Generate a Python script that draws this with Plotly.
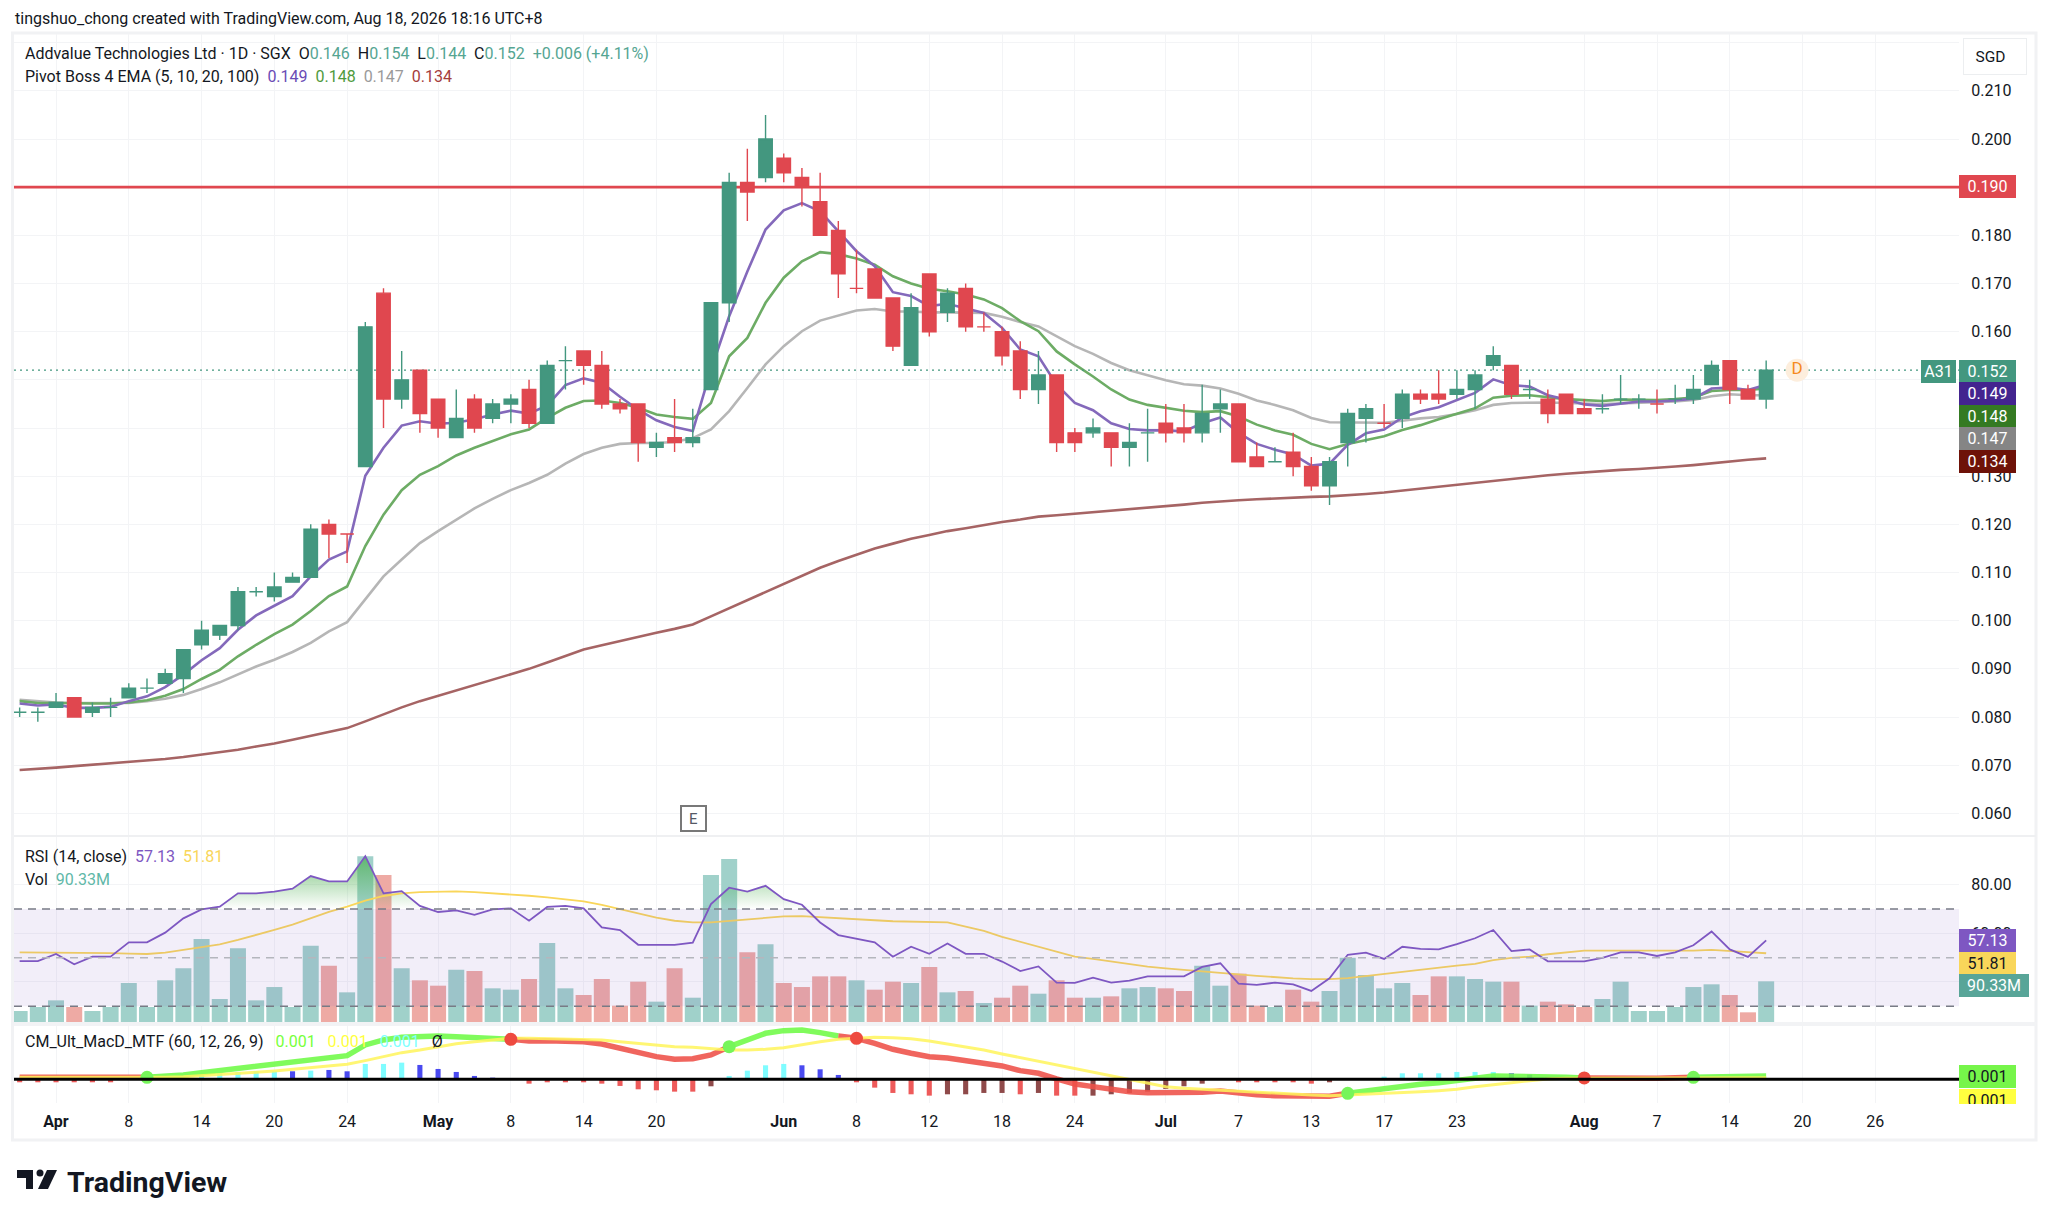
import plotly.graph_objects as go

W = 2046
H = 1206

# daily bars
opens = [0.081,0.081,0.082,0.084,0.081,0.082,0.084,0.086,0.087,0.088,0.095,0.097,0.099,0.106,0.105,0.108,0.109,0.120,0.118,0.132,
         0.168,0.146,0.152,0.146,0.138,0.146,0.142,0.145,0.148,0.141,0.154,0.156,0.153,0.145,0.145,0.136,0.138,0.137,0.148,0.166,
         0.191,0.192,0.196,0.192,0.187,0.181,0.169,0.173,0.167,0.153,0.172,0.164,0.169,0.161,0.160,0.156,0.148,0.151,0.139,0.139,
         0.139,0.136,0.139,0.141,0.140,0.139,0.144,0.145,0.134,0.133,0.135,0.132,0.128,0.137,0.142,0.141,0.142,0.147,0.147,0.147,
         0.148,0.153,0.153,0.148,0.146,0.147,0.144,0.144,0.146,0.146,0.145,0.146,0.146,0.149,0.154,0.148,0.146]
highs = [0.082,0.082,0.085,0.084,0.083,0.084,0.087,0.088,0.090,0.094,0.100,0.099,0.107,0.107,0.110,0.110,0.120,0.121,0.118,0.162,
         0.169,0.156,0.152,0.146,0.148,0.147,0.146,0.147,0.150,0.154,0.157,0.156,0.156,0.146,0.145,0.139,0.146,0.144,0.166,0.193,
         0.198,0.205,0.197,0.194,0.193,0.183,0.177,0.173,0.167,0.168,0.172,0.169,0.170,0.164,0.161,0.158,0.156,0.151,0.140,0.142,
         0.139,0.141,0.144,0.145,0.145,0.149,0.148,0.145,0.137,0.136,0.139,0.134,0.134,0.144,0.145,0.145,0.148,0.148,0.152,0.152,
         0.152,0.157,0.153,0.150,0.148,0.147,0.146,0.147,0.151,0.147,0.148,0.149,0.151,0.154,0.154,0.149,0.154]
lows = [0.080,0.079,0.082,0.080,0.080,0.080,0.084,0.085,0.087,0.085,0.094,0.096,0.098,0.105,0.104,0.108,0.109,0.113,0.112,0.132,
        0.140,0.144,0.139,0.138,0.138,0.139,0.141,0.141,0.140,0.141,0.148,0.149,0.144,0.143,0.133,0.134,0.135,0.136,0.148,0.162,
        0.183,0.191,0.191,0.186,0.180,0.167,0.168,0.167,0.156,0.153,0.159,0.162,0.160,0.160,0.153,0.146,0.145,0.135,0.135,0.138,
        0.132,0.132,0.133,0.137,0.137,0.137,0.139,0.133,0.132,0.133,0.130,0.127,0.124,0.132,0.137,0.140,0.140,0.145,0.145,0.146,
        0.144,0.152,0.146,0.146,0.141,0.143,0.143,0.143,0.145,0.144,0.143,0.145,0.145,0.149,0.145,0.146,0.144]
closes = [0.081,0.081,0.083,0.080,0.082,0.082,0.086,0.086,0.089,0.094,0.098,0.099,0.106,0.106,0.107,0.109,0.119,0.118,0.118,0.161,
          0.146,0.150,0.143,0.140,0.142,0.140,0.145,0.146,0.141,0.153,0.154,0.153,0.145,0.144,0.137,0.137,0.137,0.138,0.166,0.191,
          0.189,0.200,0.193,0.190,0.180,0.172,0.169,0.167,0.157,0.165,0.160,0.168,0.161,0.161,0.155,0.148,0.151,0.137,0.137,0.140,
          0.136,0.137,0.139,0.139,0.139,0.143,0.145,0.133,0.132,0.133,0.132,0.128,0.133,0.143,0.144,0.141,0.147,0.146,0.146,0.148,
          0.151,0.155,0.147,0.148,0.143,0.143,0.143,0.144,0.146,0.146,0.145,0.146,0.148,0.153,0.148,0.146,0.152]

ema5 = [0.0828,0.0824,0.0826,0.0819,0.0819,0.0821,0.0833,0.0843,0.0862,0.0888,0.0918,0.0943,0.0981,0.1011,0.1031,0.1051,0.1092,0.1127,0.1144,0.1301,
        0.1359,0.1405,0.1414,0.1409,0.1411,0.1418,0.1428,0.1436,0.1430,0.1447,0.1489,0.1503,0.1494,0.1465,0.1438,0.1416,0.1402,0.1394,0.1521,0.1632,
        0.1725,0.1812,0.1852,0.1867,0.1850,0.1809,0.1767,0.1736,0.1682,0.1674,0.1653,0.1658,0.1649,0.1639,0.1608,0.1563,0.1549,0.1490,0.1452,0.1437,
        0.1410,0.1398,0.1395,0.1395,0.1393,0.1410,0.1422,0.1390,0.1367,0.1355,0.1345,0.1322,0.1326,0.1365,0.1389,0.1397,0.1422,0.1435,0.1443,0.1458,
        0.1473,0.1501,0.1489,0.1486,0.1468,0.1459,0.1449,0.1446,0.1451,0.1455,0.1455,0.1457,0.1461,0.1482,0.1484,0.1479,0.1490]
ema10 = [0.0833,0.0829,0.0829,0.0828,0.0828,0.0828,0.0830,0.0835,0.0844,0.0858,0.0879,0.0898,0.0926,0.0950,0.0972,0.0992,0.1020,0.1051,0.1071,0.1155,
         0.1220,0.1271,0.1303,0.1321,0.1343,0.1359,0.1373,0.1387,0.1397,0.1421,0.1442,0.1456,0.1457,0.1452,0.1442,0.1428,0.1423,0.1419,0.1452,0.1549,
         0.1587,0.1660,0.1712,0.1746,0.1765,0.1761,0.1752,0.1739,0.1715,0.1700,0.1689,0.1684,0.1677,0.1667,0.1649,0.1622,0.1601,0.1559,0.1532,0.1507,
         0.1480,0.1459,0.1448,0.1442,0.1436,0.1433,0.1435,0.1424,0.1407,0.1395,0.1386,0.1367,0.1356,0.1367,0.1375,0.1383,0.1396,0.1406,0.1418,0.1429,
         0.1441,0.1463,0.1467,0.1468,0.1464,0.1460,0.1458,0.1456,0.1459,0.1459,0.1458,0.1460,0.1463,0.1477,0.1479,0.1479,0.1482]
ema20 = [0.0836,0.0833,0.0830,0.0829,0.0829,0.0828,0.0829,0.0833,0.0838,0.0846,0.0858,0.0872,0.0888,0.0905,0.0919,0.0935,0.0954,0.0978,0.0997,0.1044,
         0.1092,0.1127,0.1161,0.1186,0.1210,0.1233,0.1253,0.1271,0.1286,0.1303,0.1326,0.1346,0.1359,0.1367,0.1369,0.1369,0.1371,0.1379,0.1397,0.1435,
         0.1483,0.1532,0.1570,0.1601,0.1623,0.1634,0.1644,0.1647,0.1642,0.1642,0.1640,0.1640,0.1640,0.1639,0.1631,0.1620,0.1611,0.1590,0.1570,0.1554,
         0.1535,0.1520,0.1509,0.1499,0.1491,0.1488,0.1482,0.1471,0.1457,0.1448,0.1437,0.1421,0.1412,0.1412,0.1412,0.1411,0.1415,0.1420,0.1423,0.1429,
         0.1437,0.1448,0.1452,0.1453,0.1453,0.1452,0.1451,0.1450,0.1451,0.1452,0.1453,0.1455,0.1458,0.1466,0.1470,0.1468,0.1468]
ema100 = [0.0690,0.0692,0.0695,0.0698,0.0701,0.0703,0.0706,0.0709,0.0713,0.0717,0.0722,0.0727,0.0732,0.0739,0.0745,0.0753,0.0761,0.0769,0.0777,0.0791,
          0.0806,0.0820,0.0833,0.0844,0.0855,0.0866,0.0877,0.0888,0.0900,0.0913,0.0926,0.0940,0.0949,0.0958,0.0966,0.0975,0.0983,0.0992,0.1009,0.1026,
          0.1043,0.1060,0.1077,0.1094,0.1110,0.1124,0.1137,0.1150,0.1160,0.1170,0.1178,0.1186,0.1192,0.1199,0.1205,0.1210,0.1216,0.1219,0.1222,0.1225,
          0.1228,0.1231,0.1234,0.1238,0.1241,0.1245,0.1248,0.1250,0.1252,0.1254,0.1255,0.1257,0.1258,0.1260,0.1263,0.1266,0.1270,0.1274,0.1278,0.1282,
          0.1286,0.1291,0.1295,0.1299,0.1302,0.1305,0.1308,0.1310,0.1313,0.1315,0.1317,0.1320,0.1323,0.1327,0.1330,0.1334,0.1337]

volume = [24.4,33.3,48.1,33.3,24.4,33.3,86.6,33.3,92.6,119.2,184.4,51.1,163.6,48.1,77.7,33.3,169.6,125.1,65.9,368,
          326.5,119.2,92.6,80.7,116.2,113.3,74.8,71.8,95.5,175.5,74.8,60,95.5,36.3,89.6,45.2,119.2,54,326.5,362,
          154.7,172.5,86.6,77.7,101.4,101.4,92.6,71.8,89.6,86.6,122.2,65.9,68.9,42.2,54,80.7,62.9,92.6,54,54,
          57,74.8,77.7,74.8,68.9,125.1,80.7,107.4,36.3,33.3,71.8,45.2,68.9,142.9,104.4,74.8,86.6,60,101.4,101.4,
          95.5,89.6,89.6,36.3,45.2,39.2,33.3,51.1,89.6,24.4,24.4,33.3,77.7,83.7,60,21.5,90.33]

rsi = [48.6,48.6,51.5,47.3,50.4,50.4,56.3,56.3,60.3,66.2,69.9,71,76.5,76.5,77.2,78.4,83.6,81.4,81.4,91.8,
       76.5,77.4,71.3,68.8,69.5,67.6,69.9,70.3,65.2,70.9,71.3,70.3,62.5,61.4,55.3,55.3,55.3,56.2,72.1,78.8,
       77.2,79.6,74.1,71.8,64.5,59.3,57.7,56.3,50.4,54.5,51.6,55.8,51.6,51.6,48.4,44.5,46.4,39.7,39.6,41.8,
       39.7,40.5,42.3,42.3,42.3,46.2,47.7,39.3,38.8,39.7,39,36.3,41.5,51.2,52.1,49.5,54.5,53.6,53.4,55.6,
       58,61.4,52.7,53.4,48.5,48.5,48.5,49.9,52.2,52.2,50.7,52.2,55.1,60.8,53.4,50.3,57.13]
rsi_ma = [52.2,52.2,52.2,52.2,52,51.9,51.7,51.5,52.1,53.2,54.5,55.5,57.3,59.2,61.4,63.6,66.2,68.9,71,73.5,
          75.4,76.5,77,77.3,77.3,77,76.5,76.2,75.5,74.8,74.1,73.2,71.7,69.9,68.2,66.5,65.2,64.5,64.5,65.2,
          65.8,66.5,67,67.1,66.6,66.2,65.8,65.4,65,64.8,64.7,64.5,62.8,61,58.6,56.6,54.5,52.5,50.4,49.5,
          48.4,47.3,46.3,45.6,44.9,44.2,43.8,43.1,42.5,41.9,41.5,41.2,41.2,41.6,42.5,43.3,44.2,44.9,46,46.7,
          47.4,49,49.9,50.4,51.4,52.3,52.9,52.9,52.9,52.9,52.7,52.7,52.9,53.2,52.9,52.3,51.81]

# macd values in units of 0.0001
macd_line = [4,4,3.3,2,2,2,4,4,5.3,8.7,13.3,17.3,23.3,26.7,30,33.3,40,44,47.3,68.7,
             78.7,84,86.7,86.7,85.3,82.7,80.7,80,76.7,77.3,77.3,75.3,70.7,62,54,45.3,40,41.3,48.7,65.3,
             80,92,97.3,98.7,93.3,86.7,82,72,60,52,45.3,42.7,37.3,32.7,26.7,17.3,12,0.7,-9.3,-14.7,
             -20,-24.7,-26.7,-27.3,-27.3,-26,-23.3,-28,-30.7,-32.7,-33.3,-34.7,-34,-28,-23.3,-18,-13.3,-10,-6.7,-3.3,
             2,6.7,6.7,5.3,5.3,4,2.7,2,1.3,1.3,2,3.3,4,5.3,5.3,5.3,6.7]
macd_signal = [4,4,4,4,4,4,3.3,3.3,4,5.3,7.3,8.7,12,14,16.7,20,23.3,26.7,30,37.3,
               45.3,53.3,58.7,65.3,71.3,75.3,78.7,82,82,81.3,81.3,80.7,78.7,75.3,72,68.7,65.3,64,62,58.7,
               58.7,60,63.3,70,75.3,80,82.7,84,83.3,81.3,76.7,70.7,65.3,58.7,50.7,43.3,37.3,30,22,14,
               6.7,0,-8,-14.7,-18,-20,-21.3,-24.7,-26.7,-28,-30,-31.3,-32.7,-31.3,-30,-28,-26.7,-24.7,-22.7,-20,
               -14.7,-11.3,-6.7,-2.7,0.7,2,2,2,2,2,2,2,2,2,2,2.7,3.3]
macd_hist = [-6,-6,-6,-6,-6,-6,0,0,0,1.3,8.7,12,14.7,16,16,16,17.3,18.7,16,30.7,
             30.7,33.3,28.7,20.7,14.7,6.7,3.3,0,-8.7,-6,-6,-6,-8.7,-13.3,-20,-22,-24.7,-24.7,-14,6.7,
             17.3,28,30.7,28,20,8.7,-6,-16.7,-27.3,-30,-32.7,-30,-30,-27.3,-27.3,-30,-27.3,-32.7,-32.7,-32.7,
             -30,-27.3,-24.7,-19.3,-14,-8.7,0,-6,-6,-6,-6,-8.7,-6,0,2,5.3,12,12,12,14.7,
             14.7,14.7,12,9.3,4,1.3,-1.3,-1.3,-1.3,-1.3,-1.3,0,1.3,2.7,2,2,2]
hist_kind = list("rrrrrrrrr" + "aaaaaa" + "b" + "a" + "bb" + "aaa" + "bbbbbb" + "rrrrrrrrrr" + "m" + "aaaa" + "bbb"
                 + "rrrrr" + "mmmm" + "r" + "m" + "rr" + "mmmmmmmm" + "rrrrr" + "mm" + "aaaaaaaa" + "bbbb" + "rrrrr" + "m" + "aaaaa")

# bars where the macd line changes colour: (first, last, colour name)
macd_runs = [(0, 7, "red"), (7, 27, "green"), (27, 39, "red"), (39, 45, "green"), (45, 73, "red"),
             (73, 86, "green"), (86, 92, "red"), (92, 96, "green")]
cross_green = [7, 39, 73, 92]
cross_red = [27, 46, 86]

tick_pos = [2, 6, 10, 14, 18, 23, 27, 31, 35, 42, 46, 50, 54, 58, 63, 67, 71, 75, 79, 86, 90, 94, 98, 102]
tick_lab = ["<b>Apr</b>", "8", "14", "20", "24", "<b>May</b>", "8", "14", "20", "<b>Jun</b>", "8", "12", "18", "24",
            "<b>Jul</b>", "7", "13", "17", "23", "<b>Aug</b>", "7", "14", "20", "26"]
price_ticks = [0.06, 0.07, 0.08, 0.09, 0.10, 0.11, 0.12, 0.13, 0.14, 0.15, 0.16, 0.17, 0.18, 0.19, 0.20, 0.21, 0.22]
# the ones behind the price tags are not visible in the chart
price_labels = ["0.060", "0.070", "0.080", "0.090", "0.100", "0.110", "0.120", "0.130", "", "", "0.160", "0.170", "0.180", "",
                "0.200", "0.210", ""]
resistance = 0.190
idx = list(range(len(closes)))

FONT = "Roboto"
INK = "#131722"
TEAL = "#43977f"
RED = "#e0474f"
GRID = "#f3f4f6"
X_RANGE = [-0.31, 106.6]
NB = "\u00a0"


def px_x(v):
    return v / W


def px_y(v):
    return 1 - v / H


fig = go.Figure()

# price pane: lines sit on the base axis, candles on an overlay so they stay on top
for name, vals, col in [("EMA100", ema100, "#a66464"), ("EMA20", ema20, "#b6b6b6"),
                        ("EMA10", ema10, "#6dac65"), ("EMA5", ema5, "#8469bb")]:
    fig.add_trace(go.Scatter(x=idx, y=vals, mode="lines", name=name, line=dict(color=col, width=2.6), xaxis="x", yaxis="y"))
fig.add_trace(go.Scatter(x=X_RANGE, y=[resistance, resistance], mode="lines", line=dict(color=RED, width=2.6), xaxis="x", yaxis="y"))
fig.add_trace(go.Scatter(x=X_RANGE, y=[closes[-1], closes[-1]], mode="lines",
                         line=dict(color=TEAL, width=1.3, dash="2px,4px"), xaxis="x", yaxis="y"))
fig.add_trace(go.Scatter(x=[97.7], y=[closes[-1]], mode="markers+text", text=["D"], textposition="middle center",
                         textfont=dict(family=FONT, size=17, color="#f58a1f"),
                         marker=dict(size=23, color="#fdeedd"), xaxis="x", yaxis="y"))
fig.add_trace(go.Candlestick(x=idx, open=opens, high=highs, low=lows, close=closes, whiskerwidth=0,
                             increasing=dict(line=dict(color=TEAL, width=1.4), fillcolor=TEAL),
                             decreasing=dict(line=dict(color=RED, width=1.4), fillcolor=RED),
                             xaxis="x", yaxis="y2"))

# rsi and volume pane
vol_colors = ["#a0d1ca" if c >= o else "#eeaaa4" for o, c in zip(opens, closes)]
fig.add_trace(go.Bar(x=idx, y=volume, width=0.88, marker=dict(color=vol_colors, line_width=0), xaxis="x", yaxis="y3"))
fig.add_trace(go.Scatter(x=idx, y=[70] * len(idx), mode="lines", line=dict(width=0), xaxis="x", yaxis="y4"))
fig.add_trace(go.Scatter(x=idx, y=[max(r, 70) for r in rsi], mode="lines", line=dict(width=0), fill="tonexty",
                         fillgradient=dict(type="vertical", start=92, stop=70,
                                           colorscale=[[0, "rgba(76,175,80,0.75)"], [1, "rgba(76,175,80,0)"]]),
                         xaxis="x", yaxis="y4"))
fig.add_trace(go.Scatter(x=idx, y=rsi_ma, mode="lines", line=dict(color="#f9d65a", width=1.8), xaxis="x", yaxis="y4"))
fig.add_trace(go.Scatter(x=idx, y=rsi, mode="lines", line=dict(color="#7e57c2", width=1.8), xaxis="x", yaxis="y4"))

# macd pane
kind_col = {"r": "#ee5a5a", "m": "#8f4a4a", "a": "#7ffcff", "b": "#4a4af0"}
fig.add_trace(go.Bar(x=idx, y=[h * 1e-4 for h in macd_hist], width=0.28,
                     marker=dict(color=[kind_col[k] for k in hist_kind], line_width=0), xaxis="x", yaxis="y5"))
run_col = {"red": "rgba(238,80,72,0.88)", "green": "rgba(110,250,70,0.88)"}
for a, b, c in macd_runs:
    fig.add_trace(go.Scatter(x=idx[a:b + 1], y=[v * 1e-4 for v in macd_line[a:b + 1]], mode="lines",
                             line=dict(color=run_col[c], width=5.5), xaxis="x", yaxis="y5"))
fig.add_trace(go.Scatter(x=idx, y=[v * 1e-4 for v in macd_signal], mode="lines",
                         line=dict(color="rgba(255,245,90,0.85)", width=3), xaxis="x", yaxis="y5"))
fig.add_trace(go.Scatter(x=cross_green, y=[macd_line[i] * 1e-4 for i in cross_green], mode="markers",
                         marker=dict(size=13, color="#76f55a"), xaxis="x", yaxis="y5"))
fig.add_trace(go.Scatter(x=cross_red, y=[macd_line[i] * 1e-4 for i in cross_red], mode="markers",
                         marker=dict(size=13, color="#ee4a3f"), xaxis="x", yaxis="y5"))

shapes = [
    dict(type="rect", xref="paper", yref="paper", x0=px_x(12.5), x1=px_x(2036), y0=px_y(1140), y1=px_y(33),
         line=dict(color="#f1f2f4", width=3), layer="below"),
    dict(type="line", xref="paper", yref="paper", x0=px_x(14), x1=px_x(2036), y0=px_y(836), y1=px_y(836),
         line=dict(color="#eff0f2", width=2)),
    dict(type="line", xref="paper", yref="paper", x0=px_x(14), x1=px_x(2036), y0=px_y(1024), y1=px_y(1024),
         line=dict(color="#f2f3f5", width=4)),
    dict(type="rect", xref="x domain", yref="y4", x0=0, x1=1, y0=30, y1=70,
         fillcolor="rgba(126,87,194,0.1)", line_width=0, layer="above"),
    dict(type="line", xref="x domain", yref="y5", x0=0, x1=1, y0=0, y1=0, line=dict(color="#000000", width=3)),
]
for level, col in [(70, "#787b86"), (50, "#b4b6bd"), (30, "#787b86")]:
    shapes.append(dict(type="line", xref="x domain", yref="y4", x0=0, x1=1, y0=level, y1=level,
                       line=dict(color=col, width=1.5, dash="8px,6px")))
# logo pieces
for path in ["M17,1170 L33,1170 L33,1189 L26,1189 L26,1178 L17,1178 Z", "M47,1170 L57,1170 L48,1189 L38,1189 Z"]:
    pts = path.replace("M", "").replace("L", "").replace("Z", "").split()
    d = "M" + " L".join("%.5f,%.5f" % (px_x(float(p.split(",")[0])), px_y(float(p.split(",")[1]))) for p in pts) + " Z"
    shapes.append(dict(type="path", xref="paper", yref="paper", path=d, fillcolor="#131722", line_width=0))
shapes.append(dict(type="circle", xref="paper", yref="paper", x0=px_x(36.5), x1=px_x(43.5), y0=px_y(1176.5), y1=px_y(1169.5),
                   fillcolor="#131722", line_width=0))


def text_at(x, y, text, size=16, color=INK, **kw):
    return dict(xref="paper", yref="paper", x=px_x(x), y=px_y(y), text=text, showarrow=False, xanchor="left", yanchor="middle",
                font=dict(family=FONT, size=size, color=color), borderwidth=0, borderpad=0, **kw)


def tag(x, y, text, bg, width=57, height=23, color="#ffffff"):
    return text_at(x, y, text, size=16, color=color, bgcolor=bg, width=width, height=height, align="center")


def span(text, color):
    return '<span style="color:%s">%s</span>' % (color, text)


OHL = "#55a592"
GAP = NB + NB
WIDE = NB + NB + NB
annotations = [
    text_at(14.5, 18, "tingshuo_chong created with TradingView.com, Aug 18, 2026 18:16 UTC+8"),
    text_at(25, 53.5, "Addvalue Technologies Ltd · 1D · SGX" + GAP + "O" + span("0.146", OHL) + GAP + "H" + span("0.154", OHL) + GAP
            + "L" + span("0.144", OHL) + GAP + "C" + span("0.152", OHL) + GAP + span("+0.006 (+4.11%)", OHL)),
    text_at(25, 77, "Pivot Boss 4 EMA (5, 10, 20, 100)" + GAP + span("0.149", "#6a4bb5") + GAP + span("0.148", "#4f9a3c")
            + GAP + span("0.147", "#9a9a9a") + GAP + span("0.134", "#a53c3c")),
    text_at(25, 856.5, "RSI (14, close)" + GAP + span("57.13", "#7e57c2") + GAP + span("51.81", "#f9d65a")),
    text_at(25, 879.5, "Vol" + GAP + span("90.33M", "#5fb8a8")),
    text_at(25, 1041.5, "CM_Ult_MacD_MTF (60, 12, 26, 9)" + WIDE + span("0.001", "#76ff3a") + WIDE + span("0.001", "#ffff3f")
            + WIDE + span("0.001", "#80ffff") + WIDE + "Ø"),
    text_at(67, 1182, "<b>TradingView</b>", size=28.5),
    # SGD button
    text_at(1963, 56.5, NB + NB + NB + "SGD", size=15.5, bgcolor="#ffffff", bordercolor="#eceef0", width=62, height=35, align="left"),
    # price tags
    tag(1959, 186.5, "0.190", "#e0474f"),
    text_at(1921, 371, "A31", size=16, color="#ffffff", bgcolor=TEAL, width=35, height=23, align="center"),
    tag(1959, 371, "0.152", TEAL),
    tag(1959, 393.5, "0.149", "#43248f"),
    tag(1959, 416, "0.148", "#347a22"),
    tag(1959, 439, "0.147", "#858585"),
    tag(1959, 461.5, "0.134", "#6e1208"),
    tag(1959, 940.5, "57.13", "#7e57c2"),
    tag(1959, 963, "51.81", "#f9d65a", color=INK),
    tag(1959, 985.5, "90.33M", "#58a598", width=70),
    tag(1959, 1100, "0.001", "#ffff3f", color=INK),
    tag(1959, 1076.5, "0.001", "#76f54a", color=INK),
    # hides the part of the yellow tag that runs out of the pane
    text_at(1957, 1113, " ", bgcolor="#ffffff", width=64, height=18),
    # earnings flag
    text_at(680, 818, "E", size=15, color="#555a66", bgcolor="#ffffff", bordercolor="#787878", width=23, height=23, align="center"),
]
annotations[-1]["borderwidth"] = 2
annotations[7]["borderwidth"] = 1

fig.update_layout(
    width=W, height=H, margin=dict(l=0, r=0, t=0, b=0), autosize=False,
    paper_bgcolor="#ffffff", plot_bgcolor="#ffffff", showlegend=False, barmode="overlay", boxgap=0.26, boxgroupgap=0,
    font=dict(family=FONT, size=16, color=INK),
    shapes=shapes, annotations=annotations,
    xaxis=dict(domain=[px_x(14), px_x(1959)], range=X_RANGE, anchor="y5", tickmode="array", tickvals=tick_pos, ticktext=tick_lab,
               showgrid=True, gridcolor=GRID, gridwidth=1, zeroline=False, showline=False, ticks="outside", ticklen=4,
               tickcolor="rgba(0,0,0,0)", tickfont=dict(family=FONT, size=16, color=INK), rangeslider=dict(visible=False)),
    yaxis=dict(domain=[px_y(836), px_y(34)], range=[0.0553, 0.2218], side="right", anchor="x", tickmode="array",
               tickvals=price_ticks, ticktext=price_labels, showgrid=True, gridcolor=GRID, gridwidth=1, zeroline=False,
               ticks="outside", ticklen=8, tickcolor="rgba(0,0,0,0)", tickfont=dict(family=FONT, size=16, color=INK)),
    yaxis2=dict(overlaying="y", range=[0.0553, 0.2218], visible=False, anchor="x"),
    yaxis3=dict(domain=[px_y(1022), px_y(837)], range=[0, 411], visible=False, anchor="x"),
    yaxis4=dict(overlaying="y3", range=[23.5, 99.7], side="right", anchor="x", tickmode="array", tickvals=[40, 60, 80],
                ticktext=["", "60.00", "80.00"], showgrid=True, gridcolor=GRID, gridwidth=1, zeroline=False,
                ticks="outside", ticklen=8, tickcolor="rgba(0,0,0,0)", tickfont=dict(family=FONT, size=16, color=INK)),
    yaxis5=dict(domain=[px_y(1103), px_y(1026)], range=[-0.00474, 0.01066], visible=False, anchor="x"),
)

fig.write_html("out.html", config={"displayModeBar": False},
               post_script="document.body.style.margin='0';document.body.style.overflow='hidden';")
